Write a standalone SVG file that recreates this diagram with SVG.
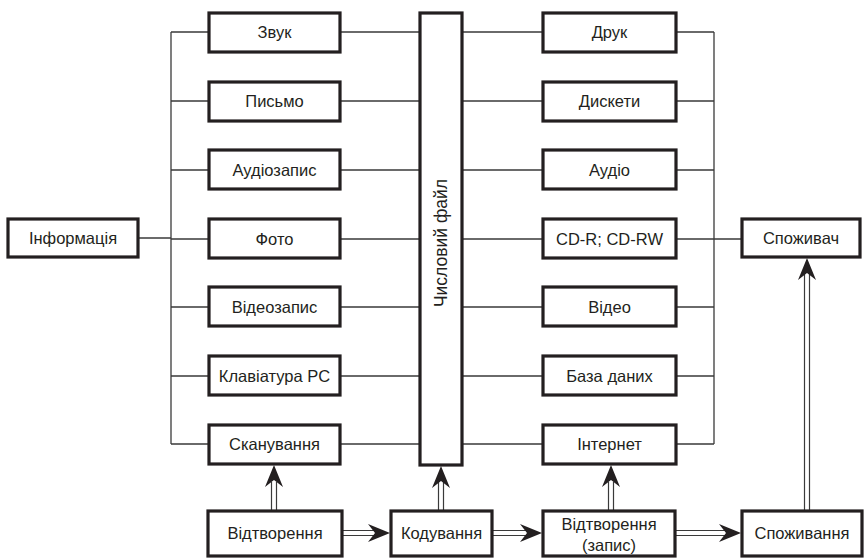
<svg xmlns="http://www.w3.org/2000/svg" width="866" height="558" viewBox="0 0 866 558">
<style>
.box{fill:#fff;stroke:#231f20;stroke-width:3.2}
.ln{fill:none;stroke:#3a3a3a;stroke-width:1.3}
.dl{fill:none;stroke:#3a3a3a;stroke-width:1.2}
.t{font-family:"Liberation Sans",Arial,sans-serif;font-size:16.5px;fill:#231f20;text-anchor:middle;dominant-baseline:central}
.ah{fill:#231f20}
</style>
<defs>
<path id="head" d="M0,0 L-22,-9 L-15,0 L-22,9 Z" class="ah"/>
</defs>
<rect width="866" height="558" fill="#fff"/>
<g id="connectors">
<path class="ln" d="M171,32 V444"/>
<path class="ln" d="M171,32 H209 M171,101 H209 M171,170 H209 M171,239 H209 M171,307 H209 M171,376 H209 M171,444 H209"/>
<path class="ln" d="M138,238 H171"/>
<path class="ln" d="M340,32 H420 M340,101 H420 M340,170 H420 M340,239 H420 M340,307 H420 M340,376 H420 M340,444 H420"/>
<path class="ln" d="M462,32 H543 M462,101 H543 M462,170 H543 M462,239 H543 M462,307 H543 M462,376 H543 M462,444 H543"/>
<path class="ln" d="M676,32 H714 M676,101 H714 M676,170 H714 M676,239 H742 M676,307 H714 M676,376 H714 M676,444 H714"/>
<path class="ln" d="M714,32 V444"/>
<path class="dl" d="M271.5,510 V482 M276.5,510 V482"/>
<use href="#head" transform="translate(274,465) rotate(-90)"/>
<path class="dl" d="M438.5,510 V482 M443.5,510 V482"/>
<use href="#head" transform="translate(441,466) rotate(-90)"/>
<path class="dl" d="M608.5,510 V482 M613.5,510 V482"/>
<use href="#head" transform="translate(611,465) rotate(-90)"/>
<path class="dl" d="M804.5,510 V274 M809.5,510 V274"/>
<use href="#head" transform="translate(807,258) rotate(-90)"/>
<path class="dl" d="M342,530.5 H374 M342,535.5 H374"/>
<use href="#head" transform="translate(390,533)"/>
<path class="dl" d="M492,530.5 H526 M492,535.5 H526"/>
<use href="#head" transform="translate(542,533)"/>
<path class="dl" d="M675,530.5 H725 M675,535.5 H725"/>
<use href="#head" transform="translate(741,533)"/>
</g>
<g id="info"><rect class="box" x="8" y="219" width="130" height="38"/><text class="t" x="73" y="238">Інформація</text></g>
<g id="zvuk"><rect class="box" x="209" y="13" width="131" height="39"/><text class="t" x="274.5" y="32">Звук</text></g>
<g id="pysmo"><rect class="box" x="209" y="82" width="131" height="39"/><text class="t" x="274.5" y="101">Письмо</text></g>
<g id="audiozapys"><rect class="box" x="209" y="150" width="131" height="39"/><text class="t" x="274.5" y="170">Аудіозапис</text></g>
<g id="foto"><rect class="box" x="209" y="219" width="131" height="39"/><text class="t" x="274.5" y="239">Фото</text></g>
<g id="videozapys"><rect class="box" x="209" y="287" width="131" height="39"/><text class="t" x="274.5" y="307">Відеозапис</text></g>
<g id="klaviatura"><rect class="box" x="209" y="356" width="131" height="39"/><text class="t" x="274.5" y="376">Клавіатура PC</text></g>
<g id="skanuvannia"><rect class="box" x="209" y="425" width="131" height="39"/><text class="t" x="274.5" y="444">Сканування</text></g>
<g id="file"><rect class="box" x="420" y="13" width="42" height="452"/><text class="t" style="font-size:17.5px" transform="translate(441,243) rotate(-90)">Числовий файл</text></g>
<g id="druk"><rect class="box" x="543" y="13" width="133" height="39"/><text class="t" x="609.5" y="32">Друк</text></g>
<g id="dysketu"><rect class="box" x="543" y="82" width="133" height="39"/><text class="t" x="609.5" y="101">Дискети</text></g>
<g id="audio"><rect class="box" x="543" y="150" width="133" height="39"/><text class="t" x="609.5" y="170">Аудіо</text></g>
<g id="cd"><rect class="box" x="543" y="219" width="133" height="39"/><text class="t" x="609.5" y="239">CD-R; CD-RW</text></g>
<g id="video"><rect class="box" x="543" y="287" width="133" height="39"/><text class="t" x="609.5" y="307">Відео</text></g>
<g id="baza"><rect class="box" x="543" y="356" width="133" height="39"/><text class="t" x="609.5" y="376">База даних</text></g>
<g id="internet"><rect class="box" x="543" y="425" width="133" height="39"/><text class="t" x="609.5" y="444">Інтернет</text></g>
<g id="spozhyvach"><rect class="box" x="742" y="219" width="118" height="38"/><text class="t" x="801" y="238">Споживач</text></g>
<g id="vidtvorennia"><rect class="box" x="208" y="511" width="134" height="45"/><text class="t" x="275" y="533">Відтворення</text></g>
<g id="koduvannia"><rect class="box" x="391" y="511" width="101" height="45"/><text class="t" x="441.5" y="533">Кодування</text></g>
<g id="vidtvorennia-zapys"><rect class="box" x="543" y="511" width="132" height="45"/><text class="t" x="609" y="524">Відтворення</text><text class="t" x="609" y="545">(запис)</text></g>
<g id="spozhyvannia"><rect class="box" x="742" y="511" width="120" height="45"/><text class="t" x="802" y="533">Споживання</text></g>
</svg>
